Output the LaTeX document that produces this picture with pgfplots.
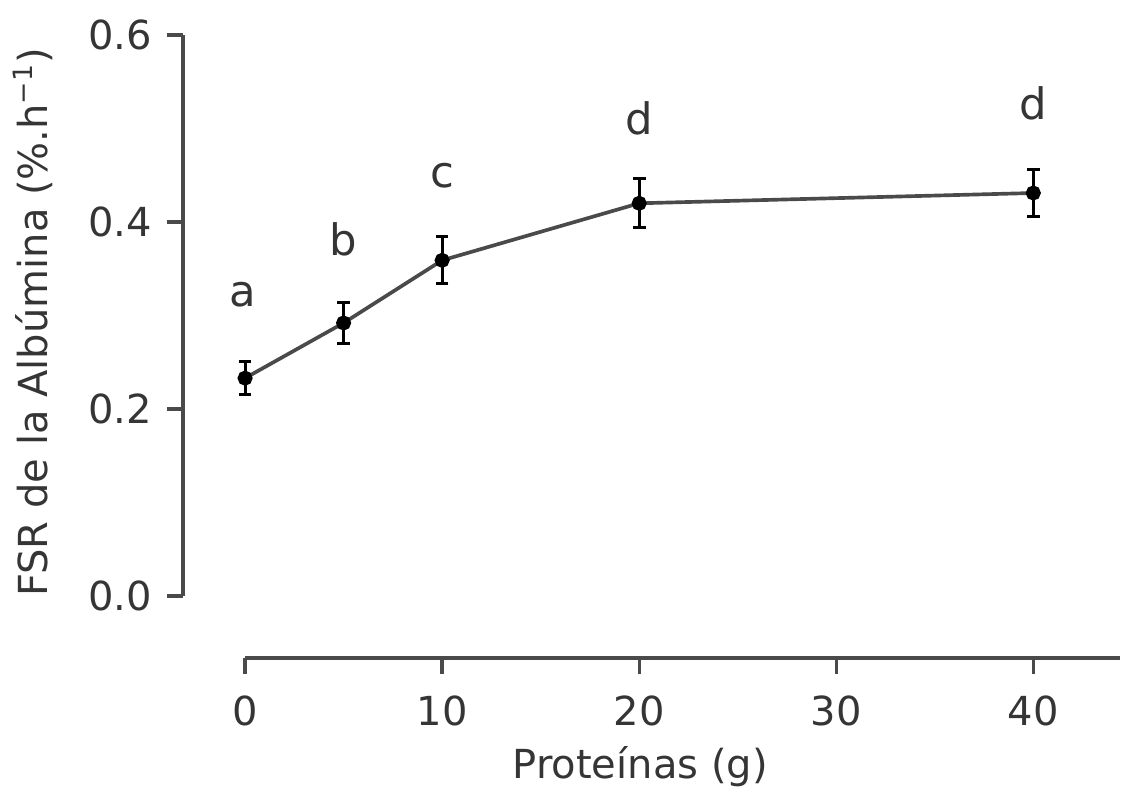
\documentclass[border=0pt]{standalone}
\usepackage{pgfplots}
\pgfplotsset{compat=1.18}
\usepackage{fontspec}
\setmainfont{DejaVu Sans}
\definecolor{txt}{HTML}{353535}
\definecolor{ln}{HTML}{4A4A4A}
\begin{document}
\begin{tikzpicture}
\begin{axis}[
  name=ax,
  scale only axis,
  width=281.1pt, height=186.9pt,
  xmin=-3.15, xmax=44.4,
  ymin=-0.0663, ymax=0.6,
  clip=false,
  axis line style={draw=none},
  xtick={0,10,20,30,40},
  ytick={0,0.2,0.4,0.6},
  yticklabel style={/pgf/number format/fixed, /pgf/number format/fixed zerofill, /pgf/number format/precision=1},
  tick align=outside,
  major tick length=4.8pt,
  tick style={ln, line width=1pt},
  xtick pos=bottom, ytick pos=left,
  /pgf/number format/assume math mode=true,
  tick label style={font=\fontsize{12}{14}\selectfont, text=txt},
  every x tick label/.append style={yshift=-3pt},
  every y tick label/.append style={xshift=-1pt},
  xlabel={Proteínas (g)},
  ylabel={FSR de la Albúmina (\%.h\textsuperscript{−1})},
  xlabel style={at={(rel axis cs:0.488,-0.175)}, anchor=center, font=\fontsize{12}{14}\selectfont, text=txt},
  ylabel style={at={(rel axis cs:-0.160,0.539)}, anchor=center, font=\fontsize{12}{14}\selectfont, text=txt},
]
\draw[ln, line width=1pt] (axis cs:0,-0.0663) -- (axis cs:44.4,-0.0663);
\draw[ln, line width=1pt] (axis cs:-3.15,0) -- (axis cs:-3.15,0.6);
\addplot[color=ln, line width=1.1pt, mark=*, mark size=1.7pt,
  mark options={fill=black, draw=black},
  error bars/.cd, y dir=both, y explicit,
  error bar style={black, line width=0.9pt},
  error mark options={black, rotate=90, mark size=1.9pt, line width=0.9pt}]
  table[x=x, y=y, y error=e] {
x  y     e
0  0.233 0.018
5  0.292 0.022
10 0.359 0.025
20 0.420 0.026
40 0.431 0.025
};
\node[text=txt, font=\fontsize{13}{15}\selectfont] at (axis cs:-0.1,0.322) {a};
\node[text=txt, font=\fontsize{13}{15}\selectfont] at (axis cs:5,0.381) {b};
\node[text=txt, font=\fontsize{13}{15}\selectfont] at (axis cs:10,0.449) {c};
\node[text=txt, font=\fontsize{13}{15}\selectfont] at (axis cs:20,0.511) {d};
\node[text=txt, font=\fontsize{13}{15}\selectfont] at (axis cs:40,0.527) {d};
\end{axis}
\pgfresetboundingbox
\path[use as bounding box] ([xshift=-54.9pt,yshift=-39.3pt]ax.south west) rectangle ([xshift=0.9pt,yshift=10.5pt]ax.north east);
\end{tikzpicture}
\end{document}
